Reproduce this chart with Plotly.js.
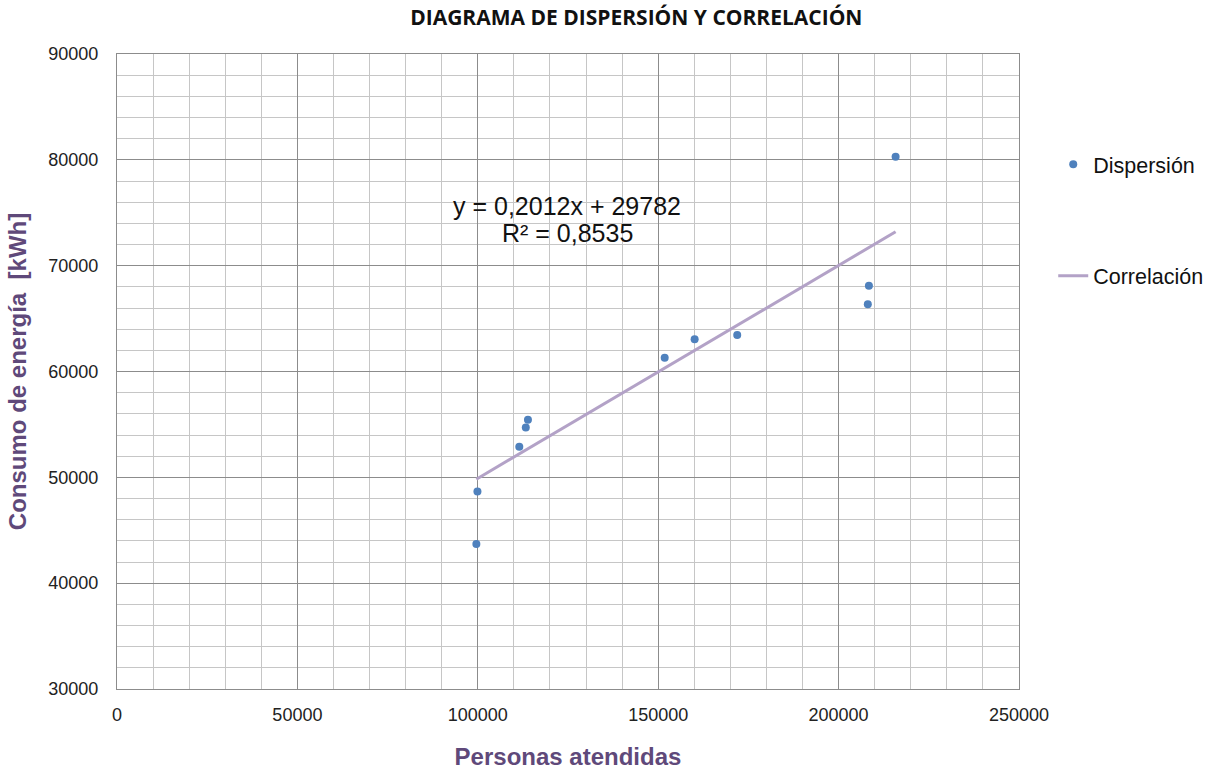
<!DOCTYPE html>
<html>
<head>
<meta charset="utf-8">
<script src="https://cdn.plot.ly/plotly-3.0.1.min.js"></script>
<style>html,body{margin:0;padding:0;background:#fff;}#chart{width:1212px;height:775px;}</style>
</head>
<body>
<div id="chart"></div>
<script>
// Data
const personas = [99600, 99900, 111500, 113300, 113900, 151800, 160100, 171900, 208400, 208100, 215800];
const consumo  = [43700, 48650, 52900, 54700, 55450, 61300, 63050, 63450, 68100, 66350, 80300];
const slope = 0.2012;
const intercept = 29782;
const r2Text = "0,8535";
const eqText = "y = 0,2012x + 29782";

const xMin = Math.min(...personas), xMax = Math.max(...personas);
const trendX = [xMin, xMax];
const trendY = trendX.map(x => slope * x + intercept);

const minorGrid = '#c6c6c6';
const majorGrid = '#8c8c8c';
const purple = '#5f497a';

const traces = [
  {
    x: personas, y: consumo, type: 'scatter', mode: 'markers', name: 'Dispersión',
    marker: {color: '#4f81bd', size: 8}, legend: 'legend'
  },
  {
    x: trendX, y: trendY, type: 'scatter', mode: 'lines', name: 'Correlación',
    line: {color: '#b3a2c7', width: 3}, legend: 'legend2'
  }
];

const layout = {
  width: 1212, height: 775,
  margin: {l: 117, r: 193, t: 54, b: 86},
  paper_bgcolor: '#fff', plot_bgcolor: '#fff',
  font: {family: 'Arial, Liberation Sans, sans-serif', color: '#222'},
  title: {
    text: '<b>DIAGRAMA DE DISPERSIÓN Y CORRELACIÓN</b>',
    font: {family: 'Open Sans', size: 21, color: '#111'},
    x: 0.525, xanchor: 'center', y: 0.977, yanchor: 'middle'
  },
  xaxis: {
    range: [0, 250000], dtick: 50000, tick0: 0, tickformat: 'd',
    showgrid: true, gridcolor: majorGrid, gridwidth: 1,
    minor: {dtick: 10000, showgrid: true, gridcolor: minorGrid, gridwidth: 1},
    showline: true, linecolor: majorGrid, mirror: true, zeroline: false,
    ticks: '', ticklabelstandoff: 9,
    tickfont: {size: 18, color: '#222'},
    title: {text: '<b>Personas atendidas</b>', font: {size: 24, color: purple}, standoff: 24}
  },
  yaxis: {
    range: [30000, 90000], dtick: 10000, tick0: 30000, tickformat: 'd',
    showgrid: true, gridcolor: majorGrid, gridwidth: 1,
    minor: {dtick: 2000, showgrid: true, gridcolor: minorGrid, gridwidth: 1},
    showline: true, linecolor: majorGrid, mirror: true, zeroline: false,
    ticks: '', ticklabelstandoff: 14,
    tickfont: {size: 18, color: '#222'},
    title: {text: '<b>Consumo de energía  [kWh]</b>', font: {size: 24, color: purple}, standoff: 14}
  },
  legend: {
    xref: 'container', yref: 'container',
    x: 0.869, y: 0.788, xanchor: 'left', yanchor: 'middle',
    font: {size: 21.5, color: '#111'}, bgcolor: 'rgba(0,0,0,0)', itemwidth: 30
  },
  legend2: {
    xref: 'container', yref: 'container',
    x: 0.869, y: 0.644, xanchor: 'left', yanchor: 'middle',
    font: {size: 21.5, color: '#111'}, bgcolor: 'rgba(0,0,0,0)', itemwidth: 30
  },
  showlegend: true,
  annotations: [
    {x: 0.499, y: 0.761, xref: 'paper', yref: 'paper', text: eqText, showarrow: false,
     font: {size: 25, color: '#111'}, xanchor: 'center', yanchor: 'middle'},
    {x: 0.499, y: 0.718, xref: 'paper', yref: 'paper', text: 'R² = ' + r2Text, showarrow: false,
     font: {size: 25, color: '#111'}, xanchor: 'center', yanchor: 'middle'}
  ]
};

Plotly.newPlot('chart', traces, layout, {displayModeBar: false});
</script>
</body>
</html>
